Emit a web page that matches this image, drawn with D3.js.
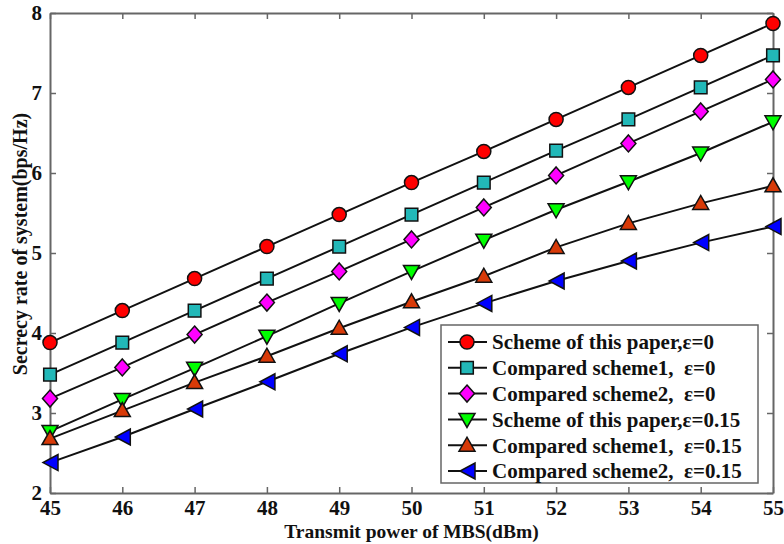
<!DOCTYPE html>
<html><head><meta charset="utf-8">
<script src="https://cdn.jsdelivr.net/npm/d3@7"></script>
<style>
body{margin:0;background:#fff;}
text{font-family:"Liberation Serif","Times New Roman",serif;font-weight:bold;}
</style></head>
<body><svg id="c" width="784" height="544"></svg>
<script>
const powers = [45,46,47,48,49,50,51,52,53,54,55];
const schemePaper0   = [3.88,4.28,4.68,5.08,5.48,5.88,6.27,6.67,7.07,7.47,7.87];
const compared1_0    = [3.48,3.88,4.28,4.68,5.08,5.48,5.88,6.28,6.67,7.07,7.47];
const compared2_0    = [3.18,3.57,3.98,4.38,4.77,5.17,5.57,5.97,6.37,6.77,7.17];
const schemePaper015 = [2.77,3.17,3.56,3.96,4.37,4.77,5.16,5.54,5.89,6.25,6.64];
const compared1_015  = [2.68,3.03,3.38,3.71,4.06,4.39,4.71,5.07,5.37,5.62,5.84];
const compared2_015  = [2.38,2.70,3.05,3.39,3.74,4.07,4.37,4.65,4.90,5.13,5.33];
const seriesNames = ["Scheme of this paper,ε=0","Compared scheme1,  ε=0","Compared scheme2,  ε=0",
  "Scheme of this paper,ε=0.15","Compared scheme1,  ε=0.15","Compared scheme2,  ε=0.15"];
const xTicks = [45,46,47,48,49,50,51,52,53,54,55];
const yTicks = [2,3,4,5,6,7,8];
const xLabel = "Transmit power of MBS(dBm)";
const yLabel = "Secrecy rate of system(bps/Hz)";

const allSeries = [schemePaper0,compared1_0,compared2_0,schemePaper015,compared1_015,compared2_015];
const colors = ["#ff0000","#22b8b8","#ff00ff","#00ff00","#d83a08","#0000ff"];
const shapes = ["circle","square","diamond","down","up","left"];

const svg = d3.select("#c");
const L=50,R=773,T=13,B=493;
const x = d3.scaleLinear().domain([45,55]).range([L,R]);
const y = d3.scaleLinear().domain([2,8]).range([B,T]);
const axisColor="#666";

function markerPath(shape){
  switch(shape){
    case "circle": return d3.symbol(d3.symbolCircle, 155)();
    case "square": return "M-6.3,-6.3H6.3V6.3H-6.3Z";
    case "diamond": return "M0,-8.5L7.5,0L0,8.5L-7.5,0Z";
    case "down": return "M-8,-6L8,-6L0,8Z";
    case "up": return "M-8,6L8,6L0,-8Z";
    case "left": return "M8,-8L8,8L-7,0Z";
  }
}

const fmt = d3.format("d");
const g = svg.append("g");
const xb = g.append("g").attr("transform",`translate(0,${B})`).call(d3.axisBottom(x).tickValues(xTicks).tickFormat(fmt).tickSizeInner(-6).tickSizeOuter(0).tickPadding(7));
const xt = g.append("g").attr("transform",`translate(0,${T})`).call(d3.axisTop(x).tickValues(xTicks).tickSizeInner(-6).tickSizeOuter(0).tickFormat(""));
const yl = g.append("g").attr("transform",`translate(${L},0)`).call(d3.axisLeft(y).tickValues(yTicks).tickFormat(fmt).tickSizeInner(-6).tickSizeOuter(0).tickPadding(8));
const yr = g.append("g").attr("transform",`translate(${R},0)`).call(d3.axisRight(y).tickValues(yTicks).tickSizeInner(-6).tickSizeOuter(0).tickFormat(""));
[xb,xt,yl,yr].forEach(a=>{
  a.select(".domain").attr("stroke",axisColor).attr("stroke-width",2);
  a.selectAll(".tick line").attr("stroke",axisColor).attr("stroke-width",1.5);
  a.selectAll("text").attr("fill","#111").style("font-size","21px").style("font-family","Liberation Serif").style("font-weight","bold");
});

const line = d3.line().x((d,i)=>x(powers[i])).y(d=>y(d));
allSeries.forEach((s,k)=>{
  svg.append("path").datum(s).attr("d",line).attr("fill","none").attr("stroke","#111").attr("stroke-width",2);
});
allSeries.forEach((s,k)=>{
  svg.append("g").selectAll("path").data(s).join("path")
    .attr("transform",(d,i)=>`translate(${x(powers[i])},${y(d)})`)
    .attr("d",markerPath(shapes[k]))
    .attr("fill",colors[k]).attr("stroke","#111").attr("stroke-width",1.5);
});

svg.append("text").attr("x",(L+R)/2).attr("y",538).attr("text-anchor","middle")
  .style("font-size","19.5px").attr("fill","#111").text(xLabel);
svg.append("text").attr("transform",`translate(20,244) rotate(-90)`).attr("text-anchor","middle")
  .attr("dy","0.35em").style("font-size","20px").attr("fill","#111").text(yLabel);

const lg = svg.append("g");
lg.append("rect").attr("x",441).attr("y",325).attr("width",317).attr("height",158)
  .attr("fill","#fff").attr("stroke",axisColor).attr("stroke-width",1.5);
seriesNames.forEach((n,k)=>{
  const cy = 342 + k*25.8;
  lg.append("line").attr("x1",448).attr("x2",487).attr("y1",cy).attr("y2",cy).attr("stroke","#111").attr("stroke-width",2);
  lg.append("path").attr("transform",`translate(467,${cy})`).attr("d",markerPath(shapes[k]))
    .attr("fill",colors[k]).attr("stroke","#111").attr("stroke-width",1.5);
  lg.append("text").attr("x",492).attr("y",cy).attr("dy","0.35em").style("font-size","21px")
    .style("white-space","pre").attr("fill","#111").text(n);
});
</script></body></html>
